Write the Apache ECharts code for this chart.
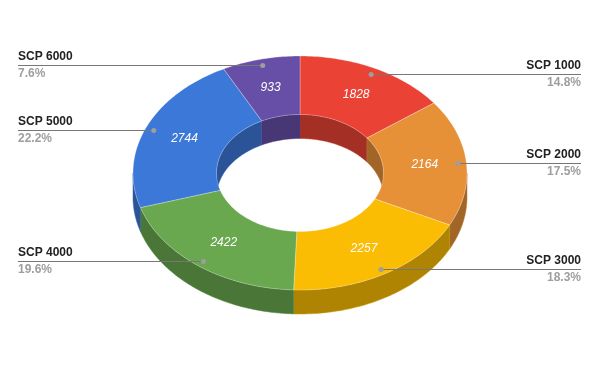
<!DOCTYPE html>
<html>
<head>
<meta charset="utf-8">
<script src="https://cdn.jsdelivr.net/npm/echarts@6/dist/echarts.min.js"></script>
<style>
html,body{margin:0;padding:0;background:#fff;}
#chart{width:600px;height:371px;}
</style>
</head>
<body>
<div id="chart"></div>
<script>
const categories = ['SCP 1000', 'SCP 2000', 'SCP 3000', 'SCP 4000', 'SCP 5000', 'SCP 6000'];
const values = [1828, 2164, 2257, 2422, 2744, 933];

const palette = ['#ea4335', '#e69138', '#fbbc04', '#6aa84f', '#3c78d8', '#674ea7'];

const total = values.reduce((a, b) => a + b, 0);
const starts = [];
let acc = 0;
values.forEach(v => { starts.push(acc); acc += v; });
const seriesData = values.map((v, i) => ({ name: categories[i], value: [v, starts[i], i] }));

function shade(hex, f) {
  const n = parseInt(hex.slice(1), 16);
  const r = Math.round(((n >> 16) & 255) * f);
  const g = Math.round(((n >> 8) & 255) * f);
  const b = Math.round((n & 255) * f);
  return 'rgb(' + r + ',' + g + ',' + b + ')';
}

const FONT = '"Liberation Sans", Arial, sans-serif';

function renderItem(params, api) {
  const W = api.getWidth();
  const cx = W / 2, cy = 173, rx = 167, ry = 117, inner = 0.5, depth = 24;
  const v = api.value(0), s = api.value(1), idx = api.value(2);
  const TAU = Math.PI * 2;
  const a1 = s / total * TAU, a2 = (s + v) / total * TAU;
  const color = palette[idx];
  const pt = (a, k, dy) => [cx + rx * k * Math.sin(a), cy - ry * k * Math.cos(a) + dy];
  const arc = (from, to, k, dy) => {
    const n = Math.max(2, Math.ceil(Math.abs(to - from) / (Math.PI / 180)));
    const out = [];
    for (let j = 0; j <= n; j++) out.push(pt(from + (to - from) * j / n, k, dy));
    return out;
  };
  const children = [];
  // inner wall (back half of hole)
  [[0, Math.PI / 2], [Math.PI * 1.5, TAU]].forEach(([lo, hi]) => {
    const f = Math.max(a1, lo), t = Math.min(a2, hi);
    if (t > f) {
      children.push({
        type: 'polygon', z2: 1,
        shape: { points: arc(f, t, inner, 0).concat(arc(t, f, inner, depth)) },
        style: { fill: shade(color, 0.7), stroke: shade(color, 0.8), lineWidth: 0.5 }
      });
    }
  });
  // outer side (front half)
  {
    const f = Math.max(a1, Math.PI / 2), t = Math.min(a2, Math.PI * 1.5);
    if (t > f) {
      children.push({
        type: 'polygon', z2: 2,
        shape: { points: arc(f, t, 1, 0).concat(arc(t, f, 1, depth)) },
        style: { fill: shade(color, 0.7), stroke: shade(color, 0.8), lineWidth: 0.5 }
      });
    }
  }
  // top face
  children.push({
    type: 'polygon', z2: 3,
    shape: { points: arc(a1, a2, 1, 0).concat(arc(a2, a1, inner, 0)) },
    style: { fill: color, stroke: 'rgba(255,255,255,0.35)', lineWidth: 0.8 }
  });
  const mid = (a1 + a2) / 2;
  const lp = pt(mid, 0.75, 0);
  children.push({
    type: 'text', z2: 5,
    style: { text: String(v), x: lp[0], y: lp[1], fill: '#ffffff', font: 'italic 12px ' + FONT, align: 'center', verticalAlign: 'middle' }
  });
  const dp = pt(mid, 0.95, 0);
  const dy = Math.round(dp[1]) + 0.5;
  const left = Math.sin(mid) < 0;
  const lineX = left ? 18 : 581;
  children.push({
    type: 'line', z2: 4,
    shape: { x1: dp[0], y1: dy, x2: lineX, y2: dy },
    style: { stroke: '#777777', lineWidth: 1 }
  });
  children.push({
    type: 'circle', z2: 5,
    shape: { cx: dp[0], cy: dy, r: 2.5 },
    style: { fill: '#9e9e9e' }
  });
  children.push({
    type: 'text', z2: 5,
    style: { text: categories[idx], x: lineX, y: dy - 8.5, fill: '#222222', font: 'bold 12px ' + FONT, align: left ? 'left' : 'right', verticalAlign: 'middle' }
  });
  children.push({
    type: 'text', z2: 5,
    style: { text: (v / total * 100).toFixed(1) + '%', x: lineX, y: dy + 8.5, fill: '#9e9e9e', font: 'bold 12px ' + FONT, align: left ? 'left' : 'right', verticalAlign: 'middle' }
  });
  return { type: 'group', children: children };
}

const chart = echarts.init(document.getElementById('chart'), null, { renderer: 'canvas' });
chart.setOption({
  backgroundColor: '#ffffff',
  animation: false,
  series: [{
    type: 'custom',
    coordinateSystem: 'none',
    silent: true,
    renderItem: renderItem,
    data: seriesData
  }]
});
</script>
</body>
</html>
